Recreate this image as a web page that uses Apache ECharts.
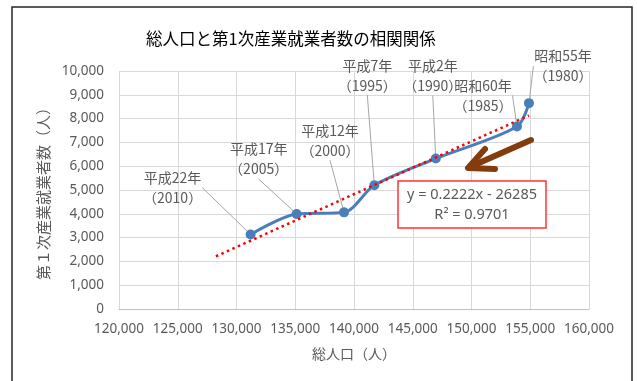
<!DOCTYPE html>
<html>
<head>
<meta charset="utf-8">
<script src="https://cdn.jsdelivr.net/npm/echarts@6/dist/echarts.min.js"></script>
<style>html,body{margin:0;padding:0;background:#fff}#c{width:637px;height:381px}</style>
</head>
<body>
<div id="c"></div>
<script>
// Data
const eraNames = ['昭和55年', '昭和60年', '平成2年', '平成7年', '平成12年', '平成17年', '平成22年'];
const years = ['1980', '1985', '1990', '1995', '2000', '2005', '2010'];
const totalPop = [154890, 153870, 146960, 141730, 139150, 135120, 131200];
const primaryWorkers = [8650, 7670, 6320, 5200, 4060, 3990, 3130];
// Linear trendline endpoints
const trendX = [128250, 154890];
const trendY = [2215, 8130];
const xTicks = { min: 120000, max: 160000, interval: 5000 };
const yTicks = { min: 0, max: 10000, interval: 1000 };
const eqLine1 = 'y = 0.2222x - 26285';
const eqLine2 = 'R² = 0.9701';

// Label offsets (layout, px, label centre relative to its point)
const labelOffsets = [[34, -37], [-34, -31], [-3, -83], [-7, -110], [-14, -72], [-38, -55], [-78, -47]];

const fmt = v => v.toLocaleString('en-US');
const FONT = '"Noto Sans CJK JP", "Noto Sans", sans-serif';
const GRAY = '#595959';

const chart = echarts.init(document.getElementById('c'), null, { renderer: 'canvas' });
chart.setOption({
  animation: false,
  backgroundColor: '#fff',
  textStyle: { fontFamily: FONT },
  title: {
    text: '総人口と第1次産業就業者数の相関関係',
    left: 141, top: 25,
    textStyle: { fontSize: 16.5, fontWeight: 'normal', color: '#000', fontFamily: FONT }
  },
  grid: { left: 119, right: 48, top: 71, bottom: 72, containLabel: false },
  xAxis: {
    type: 'value', min: xTicks.min, max: xTicks.max, interval: xTicks.interval,
    name: '総人口（人）', nameLocation: 'middle', nameGap: 38,
    nameTextStyle: { fontSize: 14, color: GRAY, fontFamily: FONT },
    axisLine: { show: true, onZero: false, lineStyle: { color: '#bfbfbf', width: 1 } },
    axisTick: { show: false },
    axisLabel: { formatter: fmt, fontSize: 13.5, color: GRAY, margin: 13, fontFamily: '"Noto Sans", sans-serif' },
    splitLine: { show: true, lineStyle: { color: '#d9d9d9', width: 1 } }
  },
  yAxis: {
    type: 'value', min: yTicks.min, max: yTicks.max, interval: yTicks.interval,
    name: '第１次産業就業者数（人）', nameLocation: 'middle', nameGap: 66, nameRotate: 90,
    nameTextStyle: { fontSize: 15, color: GRAY, fontFamily: FONT },
    axisLine: { show: false },
    axisTick: { show: false },
    axisLabel: { formatter: fmt, fontSize: 13.5, color: GRAY, margin: 15, fontFamily: '"Noto Sans", sans-serif' },
    splitLine: { show: true, lineStyle: { color: '#d9d9d9', width: 1 } }
  },
  series: [
    {
      type: 'line',
      data: totalPop.map((x, i) => ({ value: [x, primaryWorkers[i]], name: eraNames[i] })),
      smooth: 0.3,
      symbol: 'circle', symbolSize: 10,
      lineStyle: { color: '#4a7ebb', width: 3 },
      itemStyle: { color: '#4a7ebb' },
      label: {
        show: true, position: 'inside',
        formatter: p => eraNames[p.dataIndex] + '\n（' + years[p.dataIndex] + '）',
        fontSize: 14, lineHeight: 20, color: GRAY, fontFamily: FONT, align: 'center', verticalAlign: 'middle'
      },
      labelLine: { show: true, lineStyle: { color: '#a6a6a6', width: 1 } },
      labelLayout: p => ({ dx: labelOffsets[p.dataIndex][0], dy: labelOffsets[p.dataIndex][1] }),
      z: 2
    },
    {
      type: 'line',
      data: trendX.map((x, i) => [x, trendY[i]]),
      symbol: 'none', silent: true,
      lineStyle: { color: '#ff0000', width: 2.5, type: [2.5, 3.5] },
      z: 3
    }
  ],
  graphic: [
    { type: 'rect', shape: { x: 12, y: 7, width: 620, height: 400 }, style: { fill: null, stroke: '#262626', lineWidth: 1.5 }, z: 100, silent: true },
    { type: 'line', shape: { x1: 531, y1: 140, x2: 472, y2: 166 }, style: { stroke: '#843c0c', lineWidth: 6, lineCap: 'round' }, z: 50 },
    { type: 'polyline', shape: { points: [[485, 149], [468, 168], [495, 169]] }, style: { stroke: '#843c0c', lineWidth: 6, lineCap: 'round', lineJoin: 'round', fill: null }, z: 50 },
    { type: 'rect', shape: { x: 398, y: 181, width: 148, height: 47 }, style: { fill: '#fff', stroke: '#ff3333', lineWidth: 1.5 }, z: 60 },
    { type: 'text', x: 472, y: 195, style: { text: eqLine1, fontSize: 14.5, fill: GRAY, align: 'center', verticalAlign: 'middle', fontFamily: '"Noto Sans", sans-serif' }, z: 61 },
    { type: 'text', x: 472, y: 215, style: { text: eqLine2, fontSize: 14.5, fill: GRAY, align: 'center', verticalAlign: 'middle', fontFamily: '"Noto Sans", sans-serif' }, z: 61 }
  ]
});
</script>
</body>
</html>
